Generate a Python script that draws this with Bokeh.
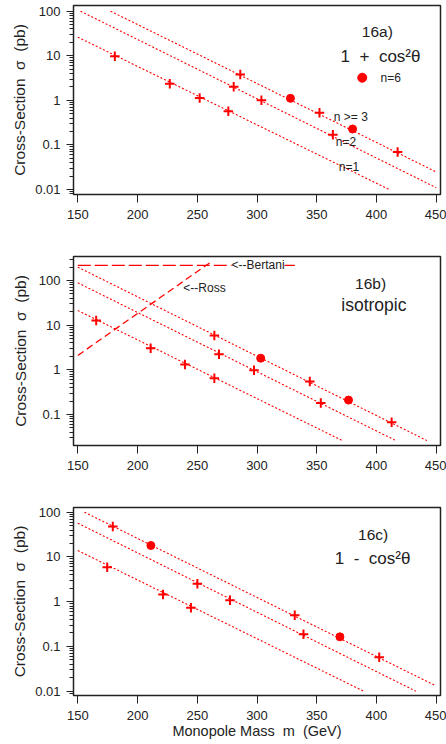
from bokeh.plotting import figure
from bokeh.models import Range1d, FixedTicker, CustomJSTickFormatter, Label
from bokeh.layouts import column
from bokeh.embed import file_html
from bokeh.resources import INLINE

RED = "#ff0000"
FONT = "Liberation Sans"
INK = "#222222"
NB = "\u00a0"

x_ticks = [150, 200, 250, 300, 350, 400, 450]
y_ticks = [0.01, 0.1, 1, 10, 100]
y_minor = [k * 10.0 ** e for e in range(-3, 3) for k in range(2, 10)]

# ---------- panel 16a) 1 + cos^2 theta ----------
a_cross_m = [181, 227, 252, 276, 280.5, 286, 303.7, 352.3, 363.5, 417.7]
a_cross_s = [9.7, 2.37, 1.13, 0.57, 2.03, 3.8, 1.0, 0.53, 0.17, 0.0695]
a_dot_m = [328, 380]
a_dot_s = [1.11, 0.228]
a_fit_m = [[150, 410.7], [152.3, 450], [177.4, 450]]
a_fit_s = [[26.2, 0.01], [100, 0.011], [100, 0.0248]]
a_fit_lbl = ["n=1", "n=2", "n >= 3"]
a_fit_lbl_m = [368.5, 366, 364.3]
a_fit_lbl_s = [0.032, 0.116, 0.42]

# ---------- panel 16b) isotropic ----------
b_cross_m = [165.4, 211, 239.7, 264.3, 268.2, 264.3, 297.5, 344.2, 353.4, 412.7]
b_cross_s = [12.7, 3.05, 1.32, 5.87, 2.24, 0.65, 0.98, 0.55, 0.18, 0.067]
b_dot_m = [303.1, 376.6]
b_dot_s = [1.82, 0.21]
b_fit_m = [[150, 371.6], [150, 416.3], [150, 442.3]]
b_fit_s = [[21.3, 0.026], [88.7, 0.026], [199, 0.026]]
bertani_m = [150, 334.5]
bertani_s = [217, 217]
ross_m = [150, 261.2]
ross_s = [2.1, 257]

# ---------- panel 16c) 1 - cos^2 theta ----------
c_cross_m = [179.3, 174.6, 221.3, 250.1, 244.7, 277.4, 331.6, 338.9, 402.3]
c_cross_s = [47.9, 5.9, 1.45, 2.51, 0.73, 1.08, 0.5, 0.188, 0.0575]
c_dot_m = [211.2, 369.4]
c_dot_s = [18, 0.164]
c_fit_m = [[150, 389.3], [150, 433], [155.6, 449.2]]
c_fit_s = [[13.9, 0.01], [56.8, 0.01], [100, 0.0134]]

legend_m, legend_s = [388.1], [3.22]

Y_LABEL = "Cross-Section " + NB + "\u03c3 " + NB + "(pb)"
X_LABEL = "Monopole Mass " + NB + "m " + NB + "(GeV)"


def make_panel(height, top, bottom, ylo, yhi, ylabel_standoff, xlabel=None):
    p = figure(width=446, height=height, y_axis_type="log",
               x_range=Range1d(146.4, 453.6), y_range=Range1d(ylo, yhi),
               output_backend="svg", toolbar_location=None,
               min_border_left=73, min_border_right=6,
               min_border_top=top, min_border_bottom=bottom)
    p.background_fill_color = "white"
    p.border_fill_color = "white"
    p.xgrid.visible = False
    p.ygrid.visible = False
    p.outline_line_color = INK
    p.outline_line_width = 1.5
    p.outline_line_alpha = 1

    xa = p.xaxis[0]
    xa.ticker = FixedTicker(ticks=x_ticks)
    xa.major_tick_out = 8
    xa.major_tick_in = 0
    xa.minor_tick_out = 0
    xa.minor_tick_in = 0
    xa.major_label_standoff = 7
    xa.axis_line_color = INK
    xa.major_tick_line_color = INK
    xa.major_label_text_font = FONT
    xa.major_label_text_font_size = "13px"
    xa.major_label_text_color = INK
    if xlabel:
        xa.axis_label = xlabel
        xa.axis_label_text_font = FONT
        xa.axis_label_text_font_size = "14.5px"
        xa.axis_label_text_font_style = "normal"
        xa.axis_label_text_color = INK
        xa.axis_label_standoff = 0

    ya = p.yaxis[0]
    ya.ticker = FixedTicker(ticks=y_ticks, minor_ticks=y_minor)
    ya.formatter = CustomJSTickFormatter(code="return String(tick);")
    ya.major_tick_out = 7
    ya.major_tick_in = 0
    ya.minor_tick_out = 4
    ya.minor_tick_in = 0
    ya.major_label_standoff = 6
    ya.axis_line_color = INK
    ya.major_tick_line_color = INK
    ya.minor_tick_line_color = INK
    ya.major_label_text_font = FONT
    ya.major_label_text_font_size = "13px"
    ya.major_label_text_color = INK
    ya.axis_label = Y_LABEL
    ya.axis_label_text_font = FONT
    ya.axis_label_text_font_size = "15.5px"
    ya.axis_label_text_font_style = "normal"
    ya.axis_label_text_color = INK
    ya.axis_label_standoff = ylabel_standoff
    return p


def add_series(p, fit_m, fit_s, cross_m, cross_s, dot_m, dot_s):
    for fm, fs in zip(fit_m, fit_s):
        p.line(fm, fs, line_color=RED, line_width=1.1, line_dash="2 2")
    p.scatter(cross_m, cross_s, marker="cross", size=9.5, line_color=RED,
              line_width=2)
    p.scatter(dot_m, dot_s, marker="circle", size=8, fill_color=RED,
              line_color=RED)


def label(p, x, y, text, size, align="center"):
    p.add_layout(Label(x=x, y=y, text=text, text_font=FONT,
                       text_font_size=size, text_color=INK,
                       text_align=align, text_baseline="middle"))


# panel a
pa = make_panel(235, 5, 41, 10 ** -2.112, 10 ** 2.128, 4)
add_series(pa, a_fit_m, a_fit_s, a_cross_m, a_cross_s, a_dot_m, a_dot_s)
for t, m, s in zip(a_fit_lbl, a_fit_lbl_m, a_fit_lbl_s):
    label(pa, m, s, t, "12px", "left")
label(pa, 400.7, 35.5, "16a)", "15.5px")
label(pa, 403.4, 9.66, "1 " + NB + "+ " + NB + "cos\u00b2\u03b8", "17px")
pa.scatter(legend_m, legend_s, marker="circle", size=9, fill_color=RED,
           line_color=RED)
label(pa, 403.4, 3.22, "n=6", "12px", "left")

# panel b
pb = make_panel(250, 21, 40, 10 ** -1.694, 10 ** 2.537, 7)
add_series(pb, b_fit_m, b_fit_s, b_cross_m, b_cross_s, b_dot_m, b_dot_s)
pb.line(bertani_m, bertani_s, line_color=RED, line_width=1.3,
        line_dash="13 4")
pb.line(ross_m, ross_s, line_color=RED, line_width=1.3, line_dash="7 4")
pb.add_layout(Label(x=278.7, y=217, text="<--Bertani", text_font=FONT,
                    text_font_size="12px", text_color=INK,
                    text_align="left", text_baseline="middle",
                    background_fill_color="white"))
label(pb, 238.3, 68.5, "<--Ross", "12px", "left")
label(pb, 395.1, 84.4, "16b)", "15.5px")
label(pb, 397.8, 27.6, "isotropic", "17.5px")

# panel c
pc = make_panel(258, 22, 48, 10 ** -2.096, 10 ** 2.105, 4, xlabel=X_LABEL)
add_series(pc, c_fit_m, c_fit_s, c_cross_m, c_cross_s, c_dot_m, c_dot_s)
label(pc, 397.2, 31.8, "16c)", "15.5px")
label(pc, 396.8, 9.2, "1 " + NB + "- " + NB + "cos\u00b2\u03b8", "17px")

layout = column(pa, pb, pc)
open("out.html", "w").write(file_html(layout, INLINE))
